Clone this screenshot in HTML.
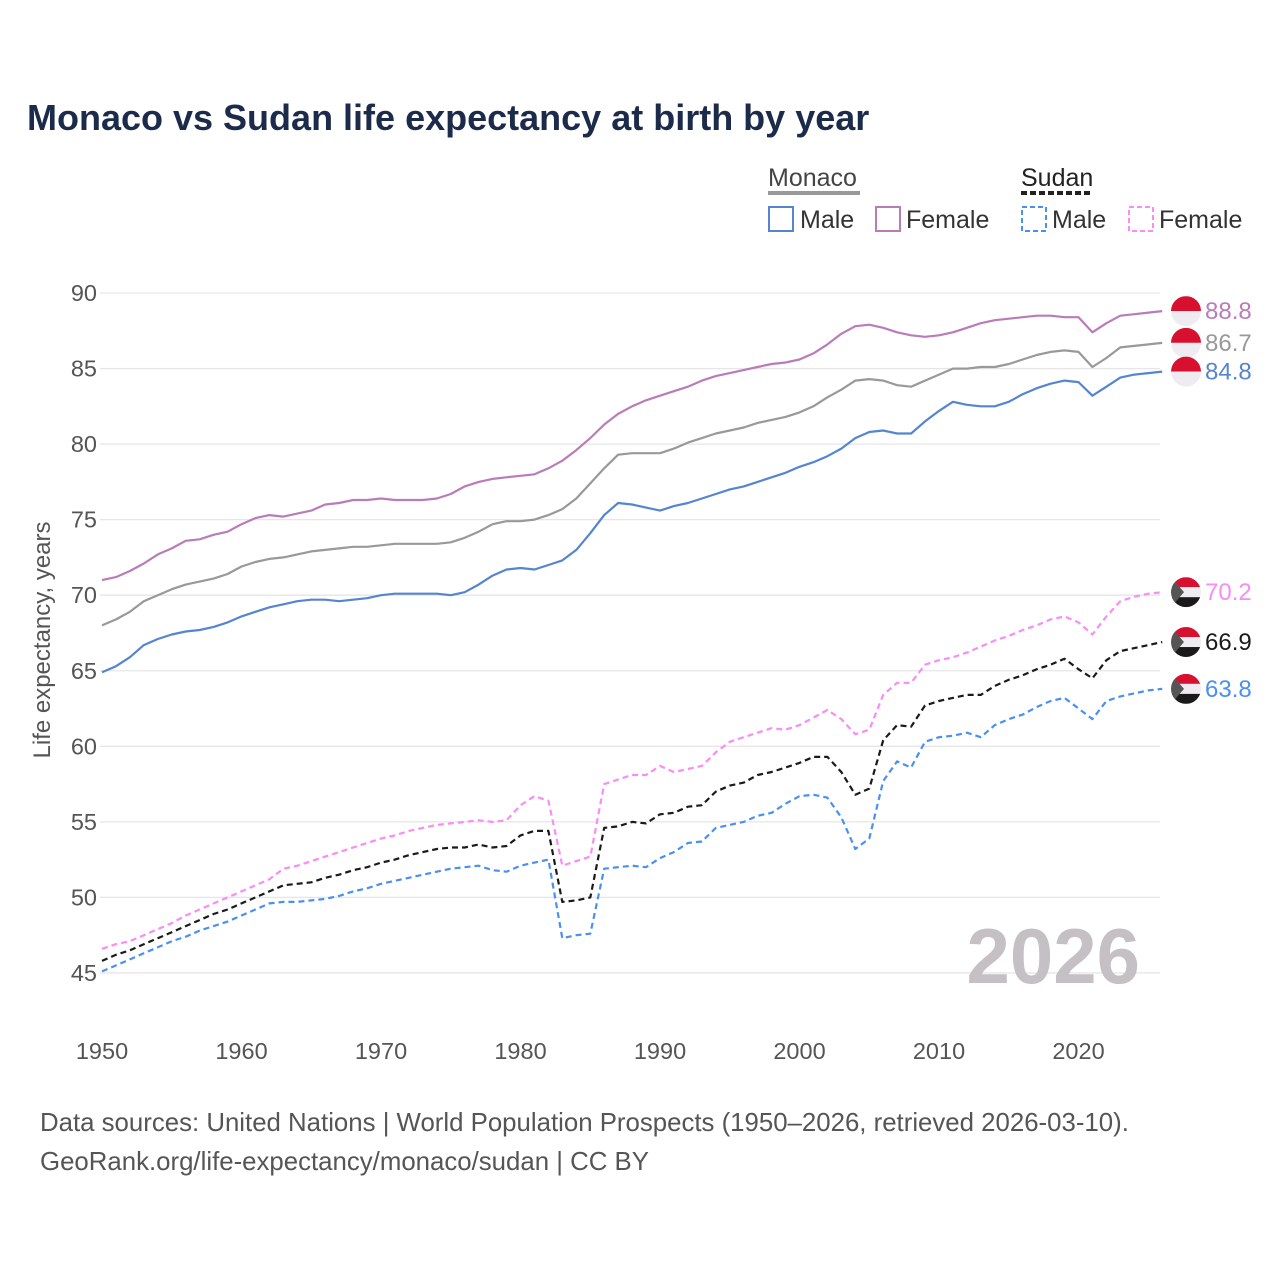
<!DOCTYPE html>
<html><head><meta charset="utf-8"><style>
body{margin:0;background:#fff;font-family:"Liberation Sans",sans-serif}
svg text{font-family:"Liberation Sans",sans-serif}
</style></head><body>
<svg width="1280" height="1280" xmlns="http://www.w3.org/2000/svg">
<text x="27" y="130" font-size="36" font-weight="bold" fill="#1c2b4a">Monaco vs Sudan life expectancy at birth by year</text>
<g font-size="25" fill="#333">
<text x="768" y="186" fill="#444">Monaco</text>
<line x1="768" y1="193" x2="860" y2="193" stroke="#999" stroke-width="4"/>
<text x="1021" y="186" fill="#222">Sudan</text>
<line x1="1021" y1="193" x2="1090" y2="193" stroke="#222" stroke-width="4" stroke-dasharray="6,3"/>
<rect x="769" y="207" width="24" height="24" fill="none" stroke="#5585d0" stroke-width="2"/>
<text x="800" y="228" fill="#333">Male</text>
<rect x="876" y="207" width="24" height="24" fill="none" stroke="#b97cb8" stroke-width="2"/>
<text x="906" y="228" fill="#333">Female</text>
<rect x="1022" y="207" width="24" height="24" fill="none" stroke="#4a90f0" stroke-width="2" stroke-dasharray="5,3"/>
<text x="1052" y="228" fill="#333">Male</text>
<rect x="1129" y="207" width="24" height="24" fill="none" stroke="#f98cf5" stroke-width="2" stroke-dasharray="5,3"/>
<text x="1159" y="228" fill="#333">Female</text>
</g>
<g id="grid"></g>
<g id="axes"></g>
<text x="1140" y="983" font-size="78" font-weight="bold" fill="#c4c0c4" text-anchor="end">2026</text>
<g id="series"></g>
<g id="ends"></g>
<text transform="translate(50,640) rotate(-90)" font-size="24" fill="#555" text-anchor="middle">Life expectancy, years</text>
<text x="40" y="1131" font-size="25.8" fill="#555">Data sources: United Nations | World Population Prospects (1950–2026, retrieved 2026-03-10).</text>
<text x="40" y="1170" font-size="25.8" fill="#555">GeoRank.org/life-expectancy/monaco/sudan | CC BY</text>
</svg>
<script>
const startYear = 1950;
const yTicks = [45,50,55,60,65,70,75,80,85,90];
const xTicks = [1950,1960,1970,1980,1990,2000,2010,2020];
const monacoFemale = [71.0,71.2,71.6,72.1,72.7,73.1,73.6,73.7,74.0,74.2,74.7,75.1,75.3,75.2,75.4,75.6,76.0,76.1,76.3,76.3,76.4,76.3,76.3,76.3,76.4,76.7,77.2,77.5,77.7,77.8,77.9,78.0,78.4,78.9,79.6,80.4,81.3,82.0,82.5,82.9,83.2,83.5,83.8,84.2,84.5,84.7,84.9,85.1,85.3,85.4,85.6,86.0,86.6,87.3,87.8,87.9,87.7,87.4,87.2,87.1,87.2,87.4,87.7,88.0,88.2,88.3,88.4,88.5,88.5,88.4,88.4,87.4,88.0,88.5,88.6,88.7,88.8];
const monacoTotal = [68.0,68.4,68.9,69.6,70.0,70.4,70.7,70.9,71.1,71.4,71.9,72.2,72.4,72.5,72.7,72.9,73.0,73.1,73.2,73.2,73.3,73.4,73.4,73.4,73.4,73.5,73.8,74.2,74.7,74.9,74.9,75.0,75.3,75.7,76.4,77.4,78.4,79.3,79.4,79.4,79.4,79.7,80.1,80.4,80.7,80.9,81.1,81.4,81.6,81.8,82.1,82.5,83.1,83.6,84.2,84.3,84.2,83.9,83.8,84.2,84.6,85.0,85.0,85.1,85.1,85.3,85.6,85.9,86.1,86.2,86.1,85.1,85.7,86.4,86.5,86.6,86.7];
const monacoMale = [64.9,65.3,65.9,66.7,67.1,67.4,67.6,67.7,67.9,68.2,68.6,68.9,69.2,69.4,69.6,69.7,69.7,69.6,69.7,69.8,70.0,70.1,70.1,70.1,70.1,70.0,70.2,70.7,71.3,71.7,71.8,71.7,72.0,72.3,73.0,74.1,75.3,76.1,76.0,75.8,75.6,75.9,76.1,76.4,76.7,77.0,77.2,77.5,77.8,78.1,78.5,78.8,79.2,79.7,80.4,80.8,80.9,80.7,80.7,81.5,82.2,82.8,82.6,82.5,82.5,82.8,83.3,83.7,84.0,84.2,84.1,83.2,83.8,84.4,84.6,84.7,84.8];
const sudanFemale = [46.6,46.9,47.1,47.5,47.9,48.3,48.8,49.2,49.6,50.0,50.4,50.8,51.2,51.9,52.1,52.4,52.7,53.0,53.3,53.6,53.9,54.1,54.4,54.6,54.8,54.9,55.0,55.1,55.0,55.1,56.1,56.7,56.4,52.1,52.4,52.7,57.5,57.8,58.1,58.1,58.7,58.3,58.5,58.7,59.6,60.3,60.6,60.9,61.2,61.1,61.4,61.9,62.4,61.8,60.8,61.1,63.4,64.2,64.2,65.4,65.7,65.9,66.2,66.6,67.0,67.3,67.7,68.0,68.4,68.6,68.2,67.4,68.6,69.6,69.9,70.1,70.2];
const sudanTotal = [45.8,46.2,46.5,46.9,47.3,47.7,48.1,48.5,48.9,49.2,49.6,50.0,50.4,50.8,50.9,51.0,51.3,51.5,51.8,52.0,52.3,52.5,52.8,53.0,53.2,53.3,53.3,53.5,53.3,53.4,54.1,54.4,54.4,49.7,49.8,50.0,54.6,54.7,55.0,54.9,55.5,55.6,56.0,56.1,57.0,57.4,57.6,58.1,58.3,58.6,58.9,59.3,59.3,58.3,56.8,57.2,60.4,61.4,61.3,62.7,63.0,63.2,63.4,63.4,64.0,64.4,64.7,65.1,65.4,65.8,65.1,64.5,65.7,66.3,66.5,66.7,66.9];
const sudanMale = [45.1,45.5,45.9,46.3,46.7,47.1,47.4,47.8,48.1,48.4,48.8,49.2,49.6,49.7,49.7,49.8,49.9,50.1,50.4,50.6,50.9,51.1,51.3,51.5,51.7,51.9,52.0,52.1,51.8,51.7,52.1,52.3,52.5,47.3,47.5,47.6,51.9,52.0,52.1,52.0,52.6,53.0,53.6,53.7,54.6,54.8,55.0,55.4,55.6,56.2,56.7,56.8,56.6,55.3,53.2,53.9,57.7,59.0,58.6,60.3,60.6,60.7,60.9,60.6,61.4,61.8,62.1,62.6,63.0,63.2,62.5,61.8,63.0,63.3,63.5,63.7,63.8];

const NS="http://www.w3.org/2000/svg";
const X = yr => 102 + (yr-1950)*13.95;
const Y = v => 293 + (90-v)*15.11;
function mk(tag, attrs, parent){const e=document.createElementNS(NS,tag);for(const k in attrs)e.setAttribute(k,attrs[k]);parent.appendChild(e);return e;}
const grid=document.getElementById('grid'), axes=document.getElementById('axes'), series=document.getElementById('series'), ends=document.getElementById('ends');
yTicks.forEach(t=>{
  const l=mk('line',{x1:100,x2:1160,y1:Y(t),y2:Y(t),stroke:'#e6e6e6','stroke-width':1.3},grid);
  
  
  const tx=mk('text',{x:97,y:Y(t)+8,'font-size':23.5,fill:'#555','text-anchor':'end'},axes);
  tx.textContent=t;
  
  
});
xTicks.forEach(t=>{
  const tx=mk('text',{x:X(t),y:1059,'font-size':23.5,fill:'#555','text-anchor':'middle'},axes);
  tx.textContent=t;
  
  
});
const defs=[
 {d:monacoFemale,c:'#b97cb8',dash:null,name:'monaco-female',lc:'#b97cb8',flag:'mc'},
 {d:monacoTotal,c:'#999999',dash:null,name:'monaco-total',lc:'#999',flag:'mc'},
 {d:monacoMale,c:'#5585d0',dash:null,name:'monaco-male',lc:'#5585d0',flag:'mc'},
 {d:sudanFemale,c:'#f98cf5',dash:'6,4',name:'sudan-female',lc:'#f98cf5',flag:'sd'},
 {d:sudanTotal,c:'#1a1a1a',dash:'6,4',name:'sudan-total',lc:'#1a1a1a',flag:'sd'},
 {d:sudanMale,c:'#4a90f0',dash:'6,4',name:'sudan-male',lc:'#4a90f0',flag:'sd'}
];
defs.forEach((s,i)=>{
  const pts=s.d.map((v,j)=>X(startYear+j).toFixed(1)+','+Y(v).toFixed(1)).join(' ');
  const a={points:pts,fill:'none',stroke:s.c,'stroke-width':2.2,'stroke-linejoin':'round'};
  if(s.dash)a['stroke-dasharray']=s.dash;
  const p=mk('polyline',a,series);
  
  
  const last=s.d[s.d.length-1];
  const cy=Y(last), cx=1186;
  const g=mk('g',{},ends);
  
  
  const cid='clip'+i;
  const cp=mk('clipPath',{id:cid},g); mk('circle',{cx:cx,cy:cy,r:15},cp);
  const fg=mk('g',{'clip-path':'url(#'+cid+')'},g);
  if(s.flag==='mc'){
    mk('rect',{x:cx-15,y:cy-15,width:30,height:15,fill:'#d8102f'},fg);
    mk('rect',{x:cx-15,y:cy,width:30,height:15,fill:'#eeecf0'},fg);
  }else{
    mk('rect',{x:cx-15,y:cy-15,width:30,height:10,fill:'#d8102f'},fg);
    mk('rect',{x:cx-15,y:cy-5,width:30,height:10,fill:'#eeecf0'},fg);
    mk('rect',{x:cx-15,y:cy+5,width:30,height:10,fill:'#1a1a1a'},fg);
    mk('polygon',{points:(cx-15)+','+(cy-15)+' '+(cx-2)+','+cy+' '+(cx-15)+','+(cy+15),fill:'#555'},fg);
  }
  const t=mk('text',{x:1205,y:cy+8,'font-size':24,fill:s.lc},g);
  t.textContent=last.toFixed(1);
});
</script>
</body></html>
